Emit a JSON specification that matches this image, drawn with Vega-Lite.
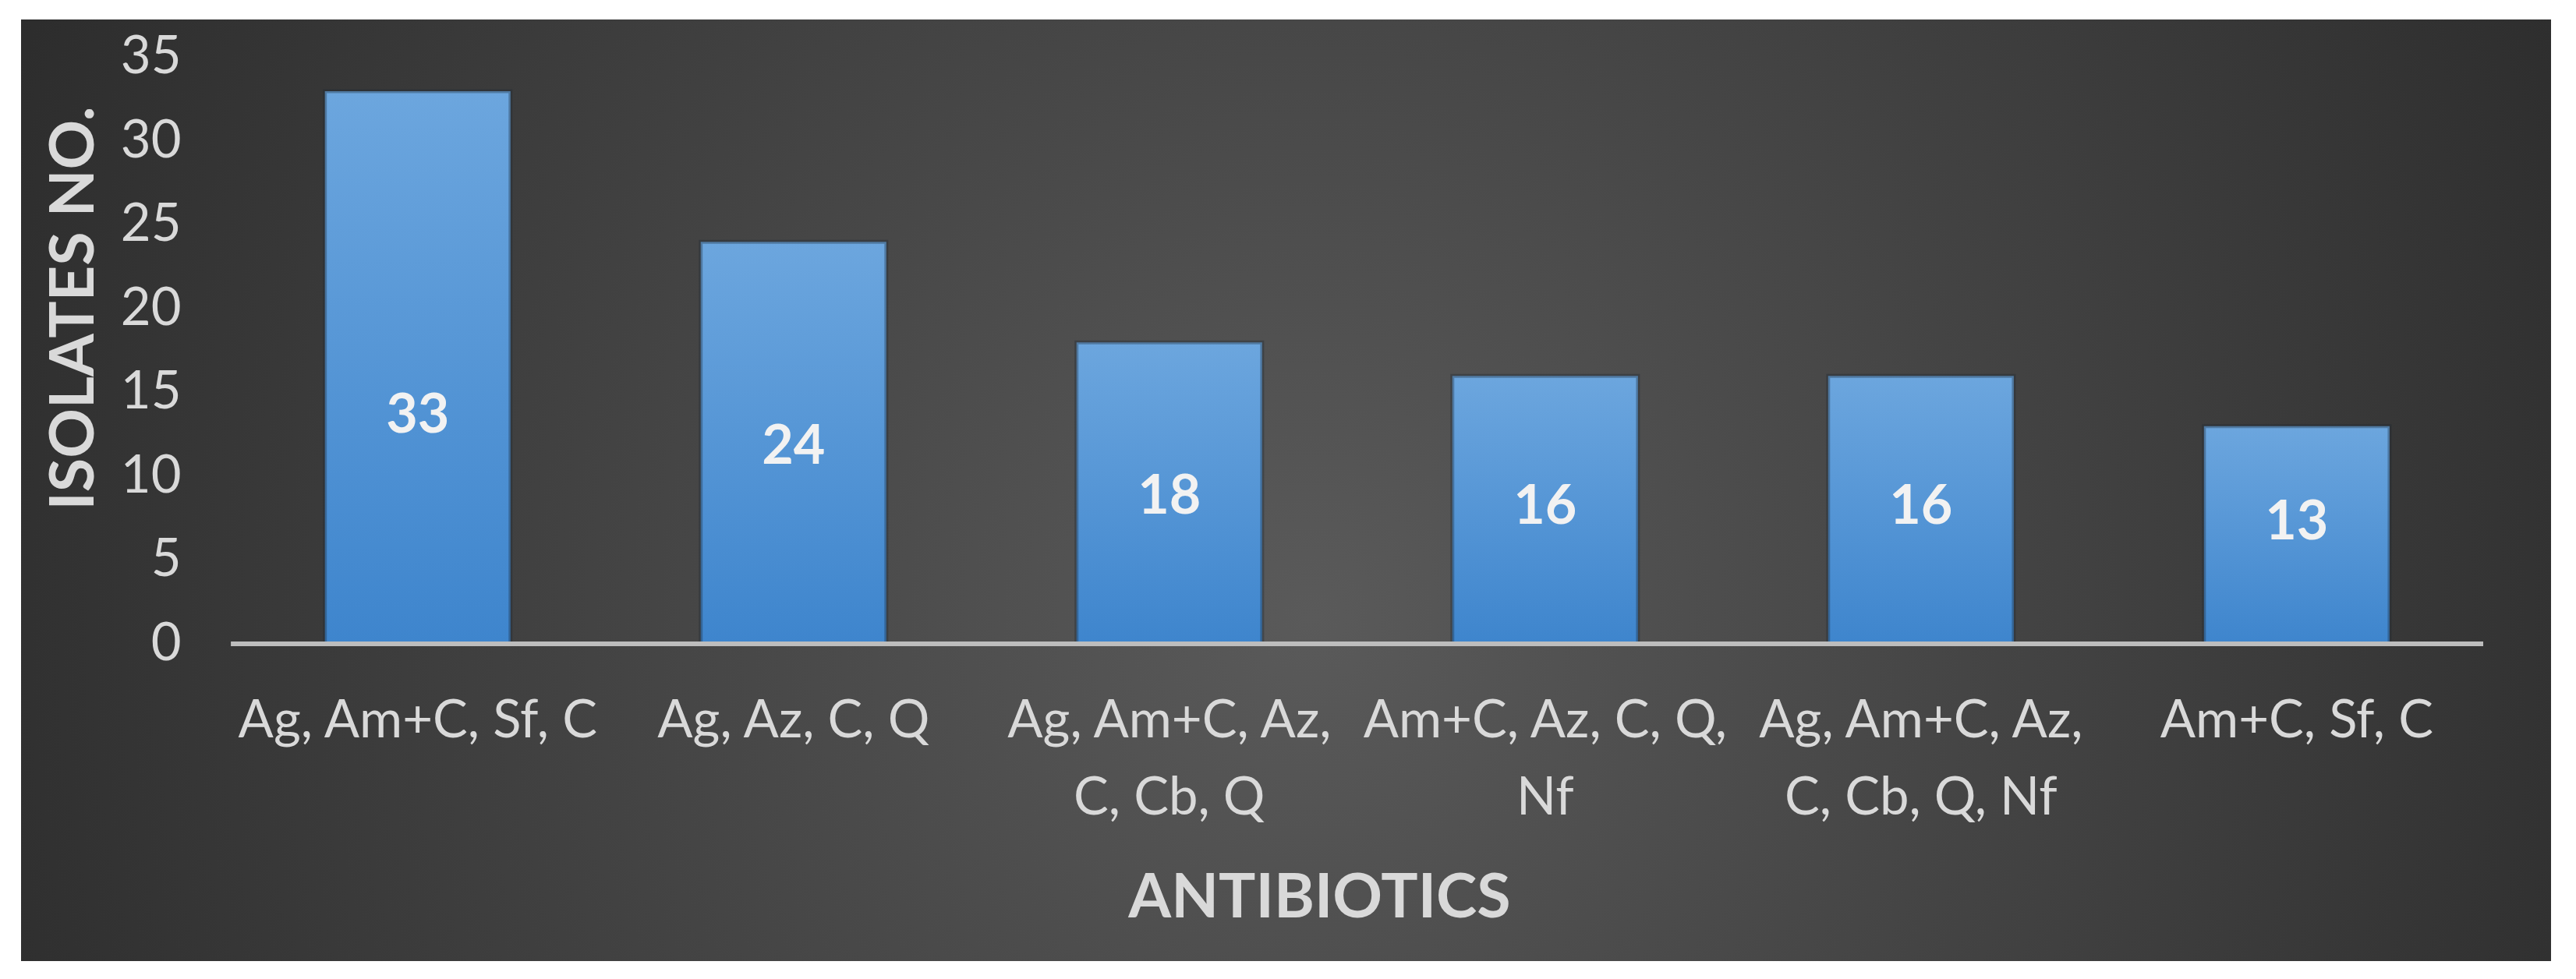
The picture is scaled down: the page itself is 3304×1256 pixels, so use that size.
{
  "$schema": "https://vega.github.io/schema/vega-lite/v6.json",
  "width": 3245,
  "height": 1208,
  "autosize": {"type": "none"},
  "padding": {"left": 27, "top": 25, "right": 32, "bottom": 23},
  "background": "#ffffff",
  "view": {
    "stroke": null,
    "fill": {
      "gradient": "radial",
      "x1": 0.51, "y1": 0.55, "r1": 0,
      "x2": 0.51, "y2": 0.55, "r2": 0.68,
      "stops": [
        {"offset": 0, "color": "#5a5a5a"},
        {"offset": 1, "color": "#232323"}
      ]
    }
  },
  "data": {
    "values": [
      {"antibiotics": "Ag, Am+C, Sf, C", "isolates": 33},
      {"antibiotics": "Ag, Az, C, Q", "isolates": 24},
      {"antibiotics": "Ag, Am+C, Az, C, Cb, Q", "isolates": 18},
      {"antibiotics": "Am+C, Az, C, Q, Nf", "isolates": 16},
      {"antibiotics": "Ag, Am+C, Az, C, Cb, Q, Nf", "isolates": 16},
      {"antibiotics": "Am+C, Sf, C", "isolates": 13}
    ]
  },
  "encoding": {
    "x": {
      "field": "antibiotics",
      "type": "nominal",
      "sort": null,
      "scale": {"type": "band", "paddingInner": 0.506, "paddingOuter": 0.619, "align": 0.653},
      "axis": {
        "title": "ANTIBIOTICS",
        "orient": "bottom",
        "offset": -407,
        "domain": false,
        "ticks": false,
        "tickSize": 0,
        "grid": false,
        "labelAngle": 0,
        "labelPadding": 66,
        "labelBaseline": "top",
        "labelFont": "Lato",
        "labelFontSize": 67,
        "labelColor": "#d9d9d9",
        "labelLineHeight": 99,
        "labelLimit": 2000,
        "labelOverlap": false,
        "labelBound": false,
        "labelExpr": "datum.label == 'Ag, Am+C, Az, C, Cb, Q' ? ['Ag, Am+C, Az,', 'C, Cb, Q'] : datum.label == 'Am+C, Az, C, Q, Nf' ? ['Am+C, Az, C, Q,', 'Nf'] : datum.label == 'Ag, Am+C, Az, C, Cb, Q, Nf' ? ['Ag, Am+C, Az,', 'C, Cb, Q, Nf'] : datum.label",
        "titleFont": "Lato",
        "titleFontSize": 79,
        "titleFontWeight": "bold",
        "titleColor": "#d9d9d9",
        "titleX": 1665,
        "titleY": 326,
        "titleAlign": "center",
        "titleBaseline": "middle"
      }
    }
  },
  "layer": [
    {
      "mark": {
        "type": "bar",
        "stroke": "#1c2733",
        "strokeWidth": 5,
        "strokeOpacity": 0.35,
        "color": {
          "gradient": "linear",
          "x1": 0, "y1": 0, "x2": 0, "y2": 1,
          "stops": [
            {"offset": 0, "color": "#6ca6de"},
            {"offset": 1, "color": "#3e85cd"}
          ]
        }
      },
      "encoding": {
        "y": {
          "field": "isolates",
          "type": "quantitative",
          "scale": {"domain": [-18.94, 37.28], "nice": false, "zero": false},
          "axis": {
            "title": "ISOLATES NO.",
            "orient": "left",
            "offset": -205,
            "values": [0, 5, 10, 15, 20, 25, 30, 35],
            "domain": false,
            "ticks": false,
            "tickSize": 0,
            "grid": false,
            "labelPadding": 0,
            "labelFont": "Lato",
            "labelFontSize": 67,
            "labelColor": "#d9d9d9",
            "titleFont": "Lato",
            "titleFontSize": 79,
            "titleFontWeight": "bold",
            "titleColor": "#d9d9d9",
            "titleX": -137,
            "titleY": 370,
            "titleAngle": 270,
            "titleAlign": "center",
            "titleBaseline": "middle"
          }
        },
        "y2": {"datum": 0}
      }
    },
    {
      "mark": {"type": "rule", "color": "#bdbdbd", "strokeWidth": 6},
      "encoding": {
        "x": {"datum": "Ag, Am+C, Sf, C", "type": "nominal", "bandPosition": -0.504},
        "x2": {"datum": "Am+C, Sf, C", "bandPosition": 1.504},
        "y": {"datum": 0, "type": "quantitative"}
      }
    },
    {
      "mark": {"type": "text", "font": "Lato", "fontWeight": "bold", "fontSize": 70, "color": "#f2f2f2", "baseline": "middle", "align": "center"},
      "encoding": {
        "text": {"field": "isolates", "type": "quantitative"},
        "y": {"datum": 0, "type": "quantitative"},
        "yOffset": {"field": "isolates", "type": "quantitative", "scale": {"domain": [0, 13, 18, 24, 33], "range": [0, -155, -188, -252, -292]}}
      }
    }
  ]
}
